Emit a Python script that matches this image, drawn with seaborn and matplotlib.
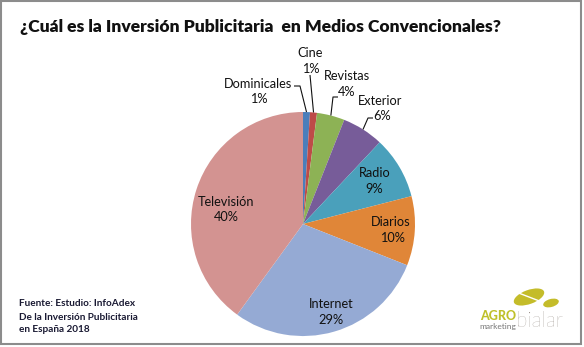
import numpy as np
import matplotlib
matplotlib.use("Agg")
import matplotlib.pyplot as plt
from matplotlib.patches import Rectangle, Ellipse
import seaborn as sns

# Inversión publicitaria en medios convencionales (España 2018), % del total
medios = ["Dominicales", "Cine", "Revistas", "Exterior", "Radio", "Diarios", "Internet", "Televisión"]
porcentajes = [1, 1, 4, 6, 9, 10, 29, 40]
colores = ["#4A7EBB", "#BE4B48", "#8DB255", "#775C99", "#4AA0BB", "#E08638", "#95AAD4", "#D39391"]

titulo = "¿Cuál es la Inversión Publicitaria  en Medios Convencionales?"
fuente = ["Fuente: Estudio: InfoAdex", "De la Inversión Publicitaria", "en España 2018"]

W, H = 584, 347
sns.set_theme(style="white")
plt.rcParams["font.family"] = ["Lato", "DejaVu Sans"]

fig = plt.figure(figsize=(W / 100, H / 100), dpi=100)
ax = fig.add_axes([0, 0, 1, 1])


def px(x, y):
    """Pixel position (origin top-left) to data coordinates."""
    return x, H - y


cx, cy = px(303, 224)
R = 112
explode = [0.035 if m == "Internet" else 0 for m in medios]

wedges, _ = ax.pie(porcentajes, colors=colores, startangle=90, counterclock=False,
                   radius=R, center=(cx, cy), explode=explode,
                   wedgeprops=dict(linewidth=0))
ax.set_xlim(0, W)
ax.set_ylim(0, H)
ax.set_aspect("equal")
ax.axis("off")

# label placement (name line and percent line), pixel coords
label_pos = {
    "Dominicales": (258, 84, 259, 99),
    "Cine": (310, 53, 311, 69),
    "Revistas": (347, 76, 347, 92),
    "Exterior": (380, 101, 382, 116),
    "Radio": (375, 173, 374, 189),
    "Diarios": (391, 222, 392, 238),
    "Internet": (331, 304, 331, 320),
    "Televisión": (226, 202, 226, 217),
}
# leader line knees for labels outside the pie
knees = {
    "Dominicales": [(294, 86), (300, 86)],
    "Cine": [(310, 75)],
    "Revistas": [(338, 97), (333, 97)],
    "Exterior": [(373, 118), (368, 118)],
}

fs = 9.2
for w, m, p in zip(wedges, medios, porcentajes):
    nx, ny, qx, qy = label_pos[m]
    ax.text(*px(nx, ny), m, ha="center", va="center", fontsize=fs, color="#111111")
    ax.text(*px(qx, qy), f"{round(p)}%", ha="center", va="center", fontsize=fs, color="#111111")
    if m in knees:
        ang = np.deg2rad((w.theta1 + w.theta2) / 2)
        wx, wy = w.center
        ex, ey = wx + R * np.cos(ang), wy + R * np.sin(ang)
        pts = [px(*k) for k in knees[m]] + [(ex, ey)]
        xs, ys = zip(*pts)
        ax.plot(xs, ys, color="#111111", lw=0.8, solid_capstyle="butt")

ax.text(*px(261, 27), titulo, ha="center", va="center", fontsize=12.6,
        fontweight="heavy", color="#111111")

for i, line in enumerate(fuente):
    ax.text(*px(19, 304 + i * 13), line, ha="left", va="center", fontsize=7.2,
            fontweight="bold", color="#1a1a33")

# logo
olive = "#C4BC2A"
ax.add_patch(Ellipse(px(529, 297), 32, 14, angle=20, color=olive, lw=0))
ax.plot(*zip(px(516, 292), px(542, 302)), color="white", lw=1.0)
ax.add_patch(Ellipse(px(551, 303), 16, 8, angle=15, color=olive, lw=0))
ax.text(*px(498, 316), "AGRO", ha="center", va="center", fontsize=9,
        fontweight="black", color="#BFC02A")
ax.text(*px(498, 327), "marketing", ha="center", va="center", fontsize=6,
        color="#777777")
ax.text(*px(539, 321), "bialar", ha="center", va="center", fontsize=15,
        fontweight="light", color="#8a8079")

# outer frame
ax.add_patch(Rectangle(px(1, 344), 580, 343, fill=False, ec="#8c8c8c", lw=1.5))

fig.savefig("out.png", dpi=100)
